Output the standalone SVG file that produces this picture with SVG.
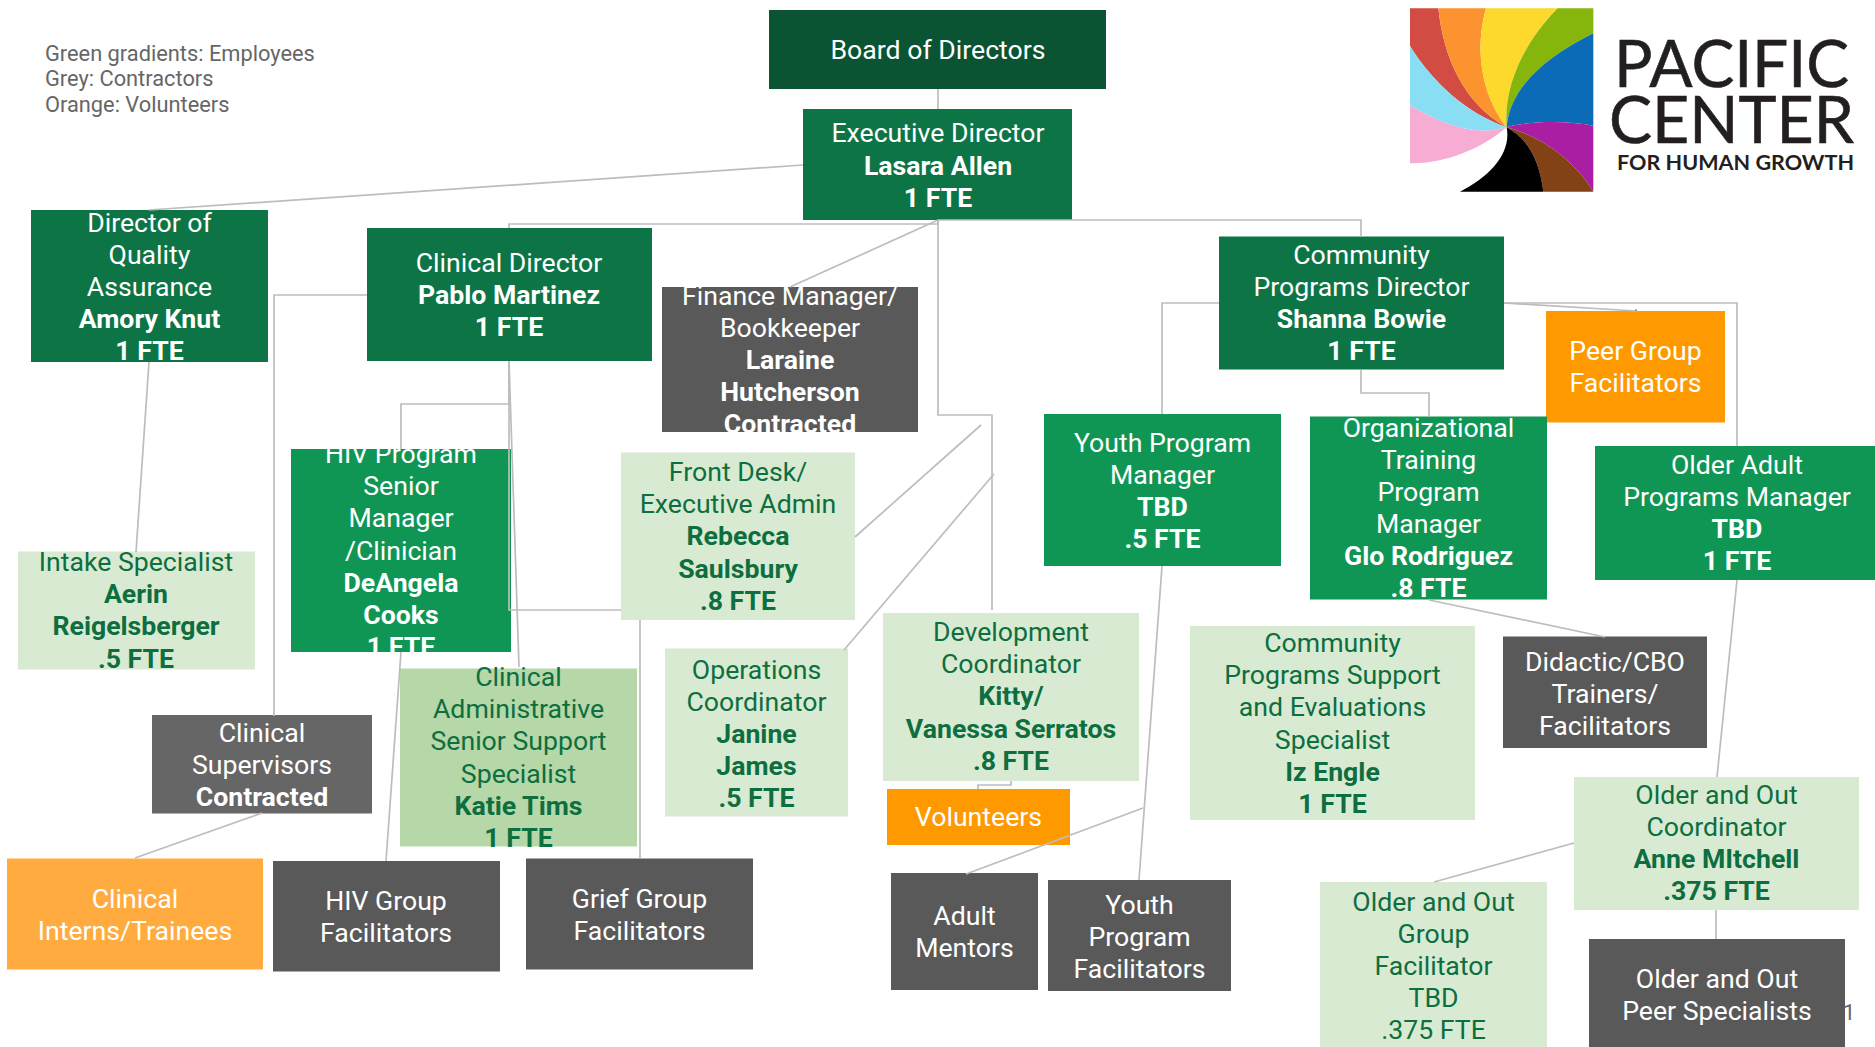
<svg xmlns="http://www.w3.org/2000/svg" width="1875" height="1047" viewBox="0 0 1875 1047">
<style>
text{font-family:Roboto,"Liberation Sans",sans-serif;font-size:26.67px;text-anchor:middle}
.w{fill:#fff}
.g{fill:#0d6e3f}
.b{font-weight:700}
.legend{font-size:21.8px;fill:#666;text-anchor:start}
.logo{font-family:Lato,"Noto Sans",sans-serif;font-size:65px;fill:#231f20;stroke:#231f20;stroke-width:.6;text-anchor:start}
.logo-sub{font-family:Lato,"Noto Sans",sans-serif;font-size:21px;font-weight:700;fill:#231f20;text-anchor:start}
.c{fill:none;stroke:#bdbdbd;stroke-width:1.7}
.board{fill:#0b5433}.exec{fill:#0d7545}.mid{fill:#109654}.light{fill:#d9ead3}.sage{fill:#b6d7a8}.dark{fill:#595959}.grey{fill:#666}.or{fill:#f90}.or2{fill:#ffab40}
</style>
<rect width="1875" height="1047" fill="#fff"/>
<g id="legend">
<text class="legend" x="45" y="61">Green gradients: Employees</text>
<text class="legend" x="45" y="86">Grey: Contractors</text>
<text class="legend" x="45" y="112">Orange: Volunteers</text>
</g>
<g id="logo">
<g transform="translate(1380 0) scale(.3333)">
<path fill="#d24c43" d="M90 25H175C190 170 250 310 380 382C260 340 160 250 90 138Z"/>
<path fill="#fb932e" d="M175 25H318C285 140 300 280 380 382C250 310 190 170 175 25Z"/>
<path fill="#fcd92c" d="M318 25H533C430 130 370 260 380 382C300 280 285 140 318 25Z"/>
<path fill="#86b50c" d="M533 25H640V100C500 170 390 260 380 382C370 260 430 130 533 25Z"/>
<path fill="#0c6bb6" d="M640 100V377C560 362 450 362 380 382C390 260 500 170 640 100Z"/>
<path fill="#aa1ea3" d="M640 377V575C590 490 490 410 380 382C450 362 560 362 640 377Z"/>
<path fill="#824216" d="M640 575H490C480 490 450 420 380 382C490 410 590 490 640 575Z"/>
<path fill="#000" d="M490 575H240C330 530 395 460 380 382C450 420 480 490 490 575Z"/>
<path fill="#f7acd3" d="M90 315V490C190 492 300 450 380 382C280 410 180 370 90 315Z"/>
<path fill="#8adef3" d="M90 138V315C180 370 280 410 380 382C260 340 160 250 90 138Z"/>
</g>
<text class="logo" x="1614" y="87" textLength="235" lengthAdjust="spacingAndGlyphs">PACIFIC</text>
<text class="logo" x="1609" y="143" textLength="245" lengthAdjust="spacingAndGlyphs">CENTER</text>
<text class="logo-sub" x="1617" y="170" textLength="237" lengthAdjust="spacingAndGlyphs">FOR HUMAN GROWTH</text>
</g>
<text id="slide-number" class="legend" x="1843" y="1020">1</text>

<g id="board"><rect class="board" x="769" y="10" width="337" height="79"/><text class="w"><tspan x="938" y="59">Board of Directors</tspan></text></g>
<g id="executive-director"><rect class="exec" x="803" y="109" width="269" height="111"/><text class="w"><tspan x="938" y="142">Executive Director</tspan><tspan class="b" x="938" y="174.500">Lasara Allen</tspan><tspan class="b" x="938" y="206.500">1 FTE</tspan></text></g>
<g id="quality-director"><rect class="exec" x="31" y="210" width="237" height="152"/><text class="w"><tspan x="149.500" y="232">Director of</tspan><tspan x="149.500" y="264">Quality</tspan><tspan x="149.500" y="296">Assurance</tspan><tspan class="b" x="149.500" y="328">Amory Knut</tspan><tspan class="b" x="149.500" y="360">1 FTE</tspan></text></g>
<g id="clinical-director"><rect class="exec" x="367" y="228" width="285" height="133"/><text class="w"><tspan x="509" y="271.500">Clinical Director</tspan><tspan class="b" x="509" y="303.500">Pablo Martinez</tspan><tspan class="b" x="509" y="336">1 FTE</tspan></text></g>
<g id="finance-manager"><rect class="dark" x="662" y="287" width="256" height="145"/><text class="w"><tspan x="790" y="304.600">Finance Manager/</tspan><tspan x="790" y="336.800">Bookkeeper</tspan><tspan class="b" x="790" y="369">Laraine</tspan><tspan class="b" x="790" y="401.200">Hutcherson</tspan><tspan class="b" x="790" y="433.400">Contracted</tspan></text></g>
<g id="community-director"><rect class="exec" x="1219" y="236.500" width="285" height="133"/><text class="w"><tspan x="1361.500" y="264">Community</tspan><tspan x="1361.500" y="296">Programs Director</tspan><tspan class="b" x="1361.500" y="328">Shanna Bowie</tspan><tspan class="b" x="1361.500" y="360">1 FTE</tspan></text></g>
<g id="peer-group"><rect class="or" x="1546" y="311" width="179" height="111.500"/><text class="w"><tspan x="1635.500" y="360">Peer Group</tspan><tspan x="1635.500" y="392">Facilitators</tspan></text></g>
<g id="hiv-manager"><rect class="mid" x="291" y="449" width="220" height="203"/><text class="w"><tspan x="401" y="463">HIV Program</tspan><tspan x="401" y="495.200">Senior</tspan><tspan x="401" y="527.400">Manager</tspan><tspan x="401" y="559.600">/Clinician</tspan><tspan class="b" x="401" y="591.800">DeAngela</tspan><tspan class="b" x="401" y="624">Cooks</tspan><tspan class="b" x="401" y="656.200">1 FTE</tspan></text></g>
<g id="front-desk"><rect class="light" x="621" y="452.500" width="234" height="167.500"/><text class="g"><tspan x="738" y="481">Front Desk/</tspan><tspan x="738" y="513.200">Executive Admin</tspan><tspan class="b" x="738" y="545.400">Rebecca</tspan><tspan class="b" x="738" y="577.600">Saulsbury</tspan><tspan class="b" x="738" y="609.800">.8 FTE</tspan></text></g>
<g id="youth-manager"><rect class="mid" x="1044" y="414" width="237" height="152"/><text class="w"><tspan x="1162.500" y="451.500">Youth Program</tspan><tspan x="1162.500" y="483.500">Manager</tspan><tspan class="b" x="1162.500" y="515.500">TBD</tspan><tspan class="b" x="1162.500" y="547.500">.5 FTE</tspan></text></g>
<g id="org-training"><rect class="mid" x="1310" y="416.500" width="237" height="183"/><text class="w"><tspan x="1428.500" y="437">Organizational</tspan><tspan x="1428.500" y="469">Training</tspan><tspan x="1428.500" y="501">Program</tspan><tspan x="1428.500" y="533">Manager</tspan><tspan class="b" x="1428.500" y="565">Glo Rodriguez</tspan><tspan class="b" x="1428.500" y="597">.8 FTE</tspan></text></g>
<g id="older-adult"><rect class="mid" x="1595" y="446" width="280" height="134"/><text class="w"><tspan x="1737" y="474">Older Adult</tspan><tspan x="1737" y="506">Programs Manager</tspan><tspan class="b" x="1737" y="538">TBD</tspan><tspan class="b" x="1737" y="570">1 FTE</tspan></text></g>
<g id="intake"><rect class="light" x="18" y="551.500" width="237" height="118"/><text class="g"><tspan x="136" y="571">Intake Specialist</tspan><tspan class="b" x="136" y="603.200">Aerin</tspan><tspan class="b" x="136" y="635.400">Reigelsberger</tspan><tspan class="b" x="136" y="667.600">.5 FTE</tspan></text></g>
<g id="clinical-supervisors"><rect class="grey" x="152" y="715" width="220" height="98.500"/><text class="w"><tspan x="262" y="741.500">Clinical</tspan><tspan x="262" y="773.700">Supervisors</tspan><tspan class="b" x="262" y="805.900">Contracted</tspan></text></g>
<g id="clinical-admin"><rect class="sage" x="400" y="668.500" width="237" height="178"/><text class="g"><tspan x="518.500" y="686">Clinical</tspan><tspan x="518.500" y="718.200">Administrative</tspan><tspan x="518.500" y="750.400">Senior Support</tspan><tspan x="518.500" y="782.600">Specialist</tspan><tspan class="b" x="518.500" y="814.800">Katie Tims</tspan><tspan class="b" x="518.500" y="847">1 FTE</tspan></text></g>
<g id="operations"><rect class="light" x="665" y="648.500" width="183" height="168"/><text class="g"><tspan x="756.500" y="679">Operations</tspan><tspan x="756.500" y="711">Coordinator</tspan><tspan class="b" x="756.500" y="743">Janine</tspan><tspan class="b" x="756.500" y="775">James</tspan><tspan class="b" x="756.500" y="807">.5 FTE</tspan></text></g>
<g id="development"><rect class="light" x="883" y="613" width="256" height="168"/><text class="g"><tspan x="1011" y="641">Development</tspan><tspan x="1011" y="673.200">Coordinator</tspan><tspan class="b" x="1011" y="705.400">Kitty/</tspan><tspan class="b" x="1011" y="737.600">Vanessa Serratos</tspan><tspan class="b" x="1011" y="769.800">.8 FTE</tspan></text></g>
<g id="community-support"><rect class="light" x="1190" y="626" width="285" height="194"/><text class="g"><tspan x="1332.500" y="652">Community</tspan><tspan x="1332.500" y="684.200">Programs Support</tspan><tspan x="1332.500" y="716.400">and Evaluations</tspan><tspan x="1332.500" y="748.600">Specialist</tspan><tspan class="b" x="1332.500" y="780.800">Iz Engle</tspan><tspan class="b" x="1332.500" y="813">1 FTE</tspan></text></g>
<g id="didactic"><rect class="dark" x="1503" y="636.500" width="204" height="111.500"/><text class="w"><tspan x="1605" y="670.500">Didactic/CBO</tspan><tspan x="1605" y="702.500">Trainers/</tspan><tspan x="1605" y="734.500">Facilitators</tspan></text></g>
<g id="older-out-coordinator"><rect class="light" x="1574" y="777" width="285" height="133"/><text class="g"><tspan x="1716.500" y="804">Older and Out</tspan><tspan x="1716.500" y="836">Coordinator</tspan><tspan class="b" x="1716.500" y="868">Anne MItchell</tspan><tspan class="b" x="1716.500" y="900">.375 FTE</tspan></text></g>
<g id="volunteers"><rect class="or" x="887" y="789" width="183" height="56"/><text class="w"><tspan x="978.500" y="826">Volunteers</tspan></text></g>
<g id="interns"><rect class="or2" x="7" y="858.500" width="256" height="111"/><text class="w"><tspan x="135" y="908">Clinical</tspan><tspan x="135" y="940">Interns/Trainees</tspan></text></g>
<g id="hiv-group"><rect class="dark" x="273" y="861" width="227" height="110.500"/><text class="w"><tspan x="386" y="910">HIV Group</tspan><tspan x="386" y="942">Facilitators</tspan></text></g>
<g id="grief-group"><rect class="dark" x="526" y="858.500" width="227" height="111"/><text class="w"><tspan x="639.500" y="908">Grief Group</tspan><tspan x="639.500" y="940">Facilitators</tspan></text></g>
<g id="adult-mentors"><rect class="dark" x="891" y="873" width="147" height="117"/><text class="w"><tspan x="964.500" y="924.500">Adult</tspan><tspan x="964.500" y="956.500">Mentors</tspan></text></g>
<g id="youth-facilitators"><rect class="dark" x="1048" y="880" width="183" height="111"/><text class="w"><tspan x="1139.500" y="913.500">Youth</tspan><tspan x="1139.500" y="945.500">Program</tspan><tspan x="1139.500" y="977.500">Facilitators</tspan></text></g>
<g id="older-group"><rect class="light" x="1320" y="882" width="227" height="165"/><text class="g"><tspan x="1433.500" y="911">Older and Out</tspan><tspan x="1433.500" y="943">Group</tspan><tspan x="1433.500" y="975">Facilitator</tspan><tspan x="1433.500" y="1007">TBD</tspan><tspan x="1433.500" y="1039">.375 FTE</tspan></text></g>
<g id="peer-specialists"><rect class="dark" x="1589" y="939" width="256" height="108"/><text class="w"><tspan x="1717" y="987.500">Older and Out</tspan><tspan x="1717" y="1019.500">Peer Specialists</tspan></text></g>

<g id="connectors">
<path class="c" d="M938 89V109"/>
<path class="c" d="M803 165L149 210"/>
<path class="c" d="M938 220V224H509V228"/>
<path class="c" d="M938 220L790 287"/>
<path class="c" d="M938 220H1361V237"/>
<path class="c" d="M938 220V415H992V610"/>
<path class="c" d="M981 425L855 537"/>
<path class="c" d="M994 474L844 650"/>
<path class="c" d="M367 295H274V716"/>
<path class="c" d="M149 362L136 552"/>
<path class="c" d="M509 361V404H401V449"/>
<path class="c" d="M509 361L519 667"/>
<path class="c" d="M509 361V610H621"/>
<path class="c" d="M640 620V858"/>
<path class="c" d="M401 652L386 861"/>
<path class="c" d="M262 813L135 858"/>
<path class="c" d="M1219 303H1162V414"/>
<path class="c" d="M1361 370V393H1429V417"/>
<path class="c" d="M1504 303L1636 311"/>
<path d="M1636 309V311" stroke="#595959" stroke-width="1" fill="none"/>
<path class="c" d="M1504 303H1737V446"/>
<path class="c" d="M1737 580L1717 777"/>
<path class="c" d="M1429 600L1605 637"/>
<path class="c" d="M1162 566L1139 880"/>
<path class="c" d="M966 874L1143 808"/>
<path class="c" d="M1011 781V785H978V789"/>
<path class="c" d="M1574 843L1434 882"/>
<path class="c" d="M1716 910V939"/>
</g>
</svg>
